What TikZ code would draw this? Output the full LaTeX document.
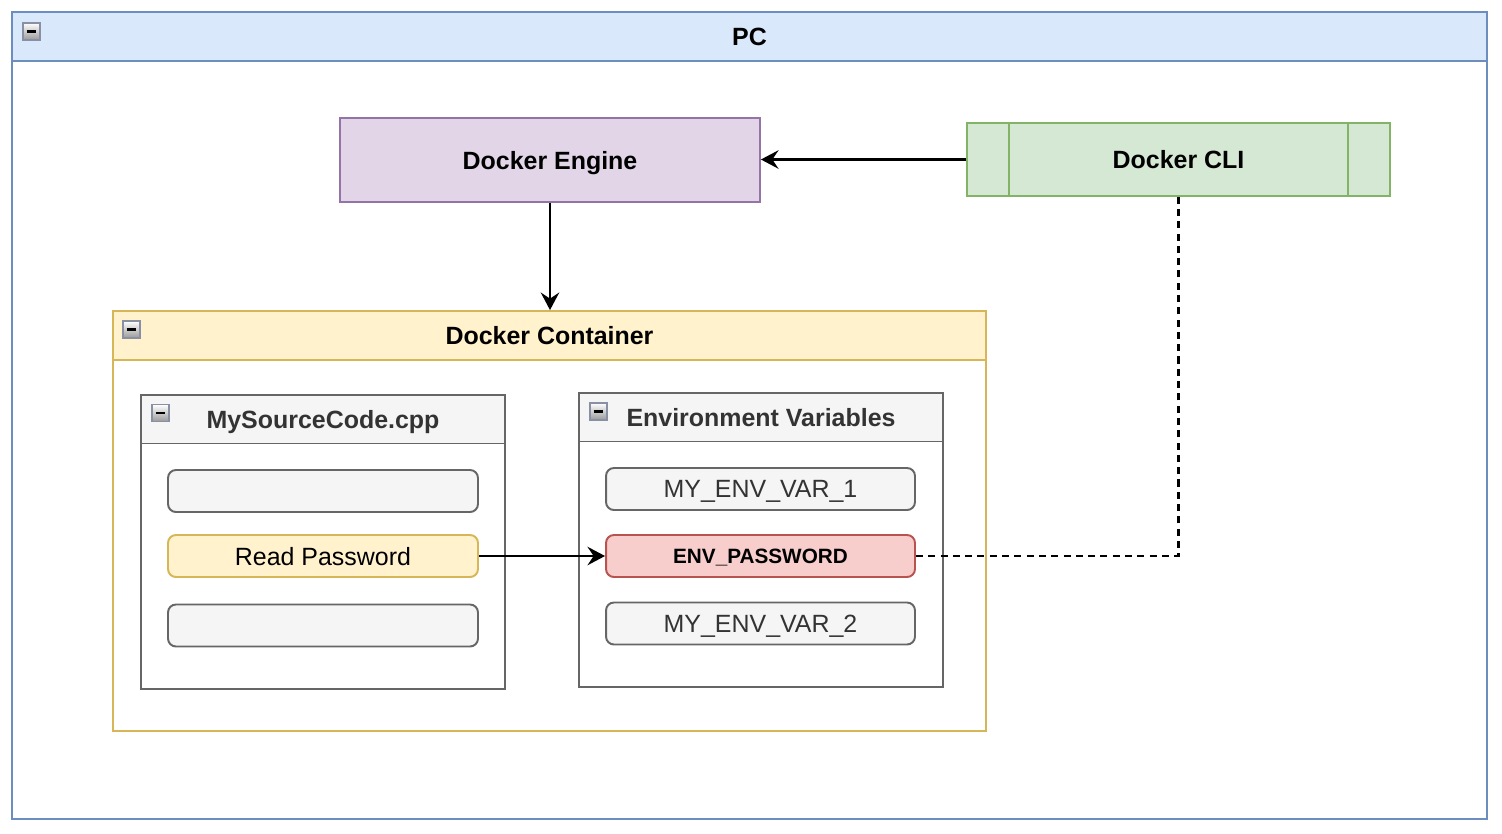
\documentclass[tikz,border=0pt]{standalone}
\usepackage{fontspec}
\setmainfont{Liberation Sans}
\usetikzlibrary{arrows.meta}
\definecolor{blueFill}{HTML}{DAE8FC}
\definecolor{blueLine}{HTML}{6C8EBF}
\definecolor{purpleFill}{HTML}{E1D5E7}
\definecolor{purpleLine}{HTML}{9673A6}
\definecolor{greenFill}{HTML}{D5E8D4}
\definecolor{greenLine}{HTML}{82B366}
\definecolor{yellowFill}{HTML}{FFF2CC}
\definecolor{yellowLine}{HTML}{D6B656}
\definecolor{redFill}{HTML}{F8CECC}
\definecolor{redLine}{HTML}{B85450}
\definecolor{grayFill}{HTML}{F5F5F5}
\definecolor{grayLine}{HTML}{666666}
\definecolor{grayText}{HTML}{333333}
\definecolor{iconLine}{HTML}{8A90A4}
\begin{document}
\begin{tikzpicture}[x=0.02cm,y=-0.02cm,line width=1.1pt,
    font=\fontsize{14.2}{17}\selectfont,
    box/.style={draw,rectangle,inner sep=0pt,text depth=0pt},
    lane/.style={box,fill=white},
    lanehead/.style={box,anchor=north,minimum height=0.97cm,font=\fontsize{14.2}{17}\selectfont\bfseries},
    row/.style={box,rounded corners=4.5pt,minimum width=6.2cm,minimum height=0.84cm,
      fill=grayFill,draw=grayLine,text=grayText},
    collapse/.style={draw=iconLine,line width=0.9pt,top color=white,bottom color=black!40,
      minimum size=0.34cm,inner sep=0pt,
      path picture={\draw[black,line width=1.6pt]
        ([xshift=2pt]path picture bounding box.west) -- ([xshift=-2pt]path picture bounding box.east);}},
    arrow/.style={line width=1.4pt,-{Stealth[length=10pt,width=10.5pt,inset=3.5pt]}},
    link/.style={line width=1.4pt,dash pattern=on 4pt off 3pt}]
    \useasboundingbox (0,0) rectangle (1502,833);

    \node[lane,draw=blueLine,minimum width=29.5cm,minimum height=16.14cm] (pc) at (749.5,415.5) {};
    \node[lanehead,fill=blueFill,draw=blueLine,minimum width=29.5cm] (pchead) at (pc.north) {PC};
    \node[collapse] (pcmin) at (31.5,31.5) {};

    \node[box,fill=purpleFill,draw=purpleLine,minimum width=8.4cm,minimum height=1.68cm,
      font=\fontsize{14.2}{17}\selectfont\bfseries] (engine) at (550,160) {Docker Engine};
    \node[box,fill=greenFill,draw=greenLine,minimum width=8.46cm,minimum height=1.46cm,
      font=\fontsize{14.2}{17}\selectfont\bfseries] (cli) at (1178.5,159.5) {Docker CLI};
    \draw[greenLine] (1009,123) -- (1009,196);
    \draw[greenLine] (1348,123) -- (1348,196);

    \node[lane,draw=yellowLine,minimum width=17.46cm,minimum height=8.4cm] (container) at (549.5,521) {};
    \node[lanehead,fill=yellowFill,draw=yellowLine,minimum width=17.46cm] (containerhead) at (container.north) {Docker Container};
    \node[collapse] (containermin) at (131.5,329.5) {};

    \node[lane,draw=grayLine,minimum width=7.28cm,minimum height=5.88cm] (source) at (323,542) {};
    \node[lanehead,fill=grayFill,draw=grayLine,text=grayText,minimum width=7.28cm] (sourcehead) at (source.north) {MySourceCode.cpp};
    \node[collapse] (sourcemin) at (160.5,413) {};

    \node[lane,draw=grayLine,minimum width=7.28cm,minimum height=5.88cm] (env) at (761,540) {};
    \node[lanehead,fill=grayFill,draw=grayLine,text=grayText,minimum width=7.28cm] (envhead) at (env.north) {Environment Variables};
    \node[collapse] (envmin) at (598.5,411.5) {};

    \node[row] (code1) at (323,491) {};
    \node[row,fill=yellowFill,draw=yellowLine,text=black] (readpw) at (323,556) {Read Password};
    \node[row] (code3) at (323,625.5) {};

    \node[row,minimum width=6.18cm] (var1) at (760.5,489) {MY\_ENV\_VAR\_1};
    \node[row,minimum width=6.18cm,fill=redFill,draw=redLine,text=black,
      font=\fontsize{11.8}{14}\selectfont\bfseries] (envpw) at (760.5,556) {ENV\_PASSWORD};
    \node[row,minimum width=6.18cm] (var2) at (760.5,623.5) {MY\_ENV\_VAR\_2};

    \draw[arrow] (cli.west) -- (cli.west -| engine.east);
    \draw[arrow] (engine.south) -- (engine.south |- container.north);
    \draw[arrow] (readpw.east) -- (envpw.west);
    \draw[link] (envpw.east) -| (cli.south);
\end{tikzpicture}
\end{document}
